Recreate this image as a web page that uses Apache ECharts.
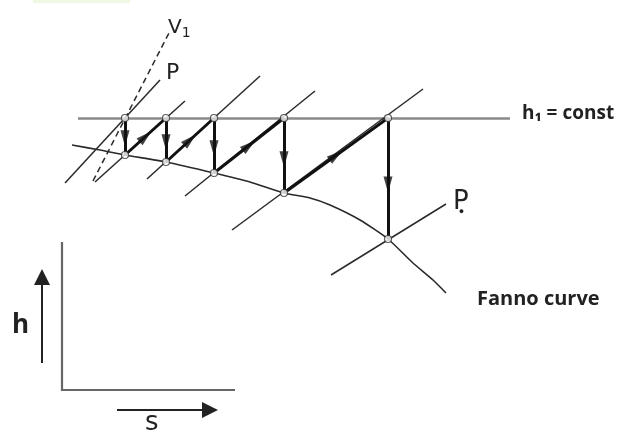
<!DOCTYPE html>
<html>
<head>
<meta charset="utf-8">
<script src="https://cdn.jsdelivr.net/npm/echarts@6/dist/echarts.min.js"></script>
<style>
html,body{margin:0;padding:0;background:#fff;}
#c{width:619px;height:432px;}
</style>
</head>
<body>
<div id="c"></div>
<script>
// ---- diagram data (s, h) in drawing units ----
const hConst = 314;                               // h1 = const level
const hConstRange = [78, 510];                    // s extent of the h1 line
const stateS = [125, 166, 214, 284, 388];         // s of each state
const fannoH = [277, 270, 259, 239, 193];         // h of each state on Fanno curve
const fannoCurve = [[72,287],[100,282],[125,277],[166,270],[214,259],[250,250],[284,239],[310,234],[330,227],[360,212],[388,193],[413,169],[433,152],[446,139]];
const isobars = [
  [[65,249],[160,352]],
  [[95,250],[185,331]],
  [[147,253],[260,356]],
  [[185,236],[315,341]],
  [[232,202],[423,343]],
  [[331,157],[446,228]]
];
const v1Line = [[93,251],[170,401]];
const hsBox = [[62,190],[62,42],[235,42]];
const hArrow = [[42,69],[42,155]];
const sArrow = [[117,22],[210,22]];
const labelV1 = 'V';
const labelP = 'P';
const labelPe = 'P';
const labelH1 = 'h₁ = const';
const labelFanno = 'Fanno curve';
const labelH = 'h';
const labelS = 's';

// ---- derived marks ----
const verticals = stateS.map((s, i) => [[s, hConst], [s, fannoH[i]]]);
const diagonals = [];
for (let i = 0; i < stateS.length - 1; i++) {
  diagonals.push([[stateS[i], fannoH[i]], [stateS[i + 1], hConst]]);
}
function arrowHead(seg, t) {
  const [a, b] = seg;
  const dx = b[0] - a[0], dy = b[1] - a[1];
  const ang = Math.atan2(dy, dx) * 180 / Math.PI;
  return { value: [a[0] + dx * t, a[1] + dy * t], symbolRotate: ang - 90 };
}
const heads = verticals.map(v => arrowHead(v, 0.55)).concat(diagonals.map(d => arrowHead(d, 0.5)));
const points = stateS.map(s => [s, hConst]).concat(stateS.map((s, i) => [s, fannoH[i]]));

const chart = echarts.init(document.getElementById('c'), null, {renderer: 'canvas'});
const dark = '#2a2a2a';
chart.setOption({
  animation: false,
  backgroundColor: '#fff',
  grid: {left: 0, right: 0, top: 0, bottom: 0},
  xAxis: {type: 'value', min: 0, max: 619, show: false},
  yAxis: {type: 'value', min: 0, max: 432, show: false},
  series: [
    { type: 'lines', coordinateSystem: 'cartesian2d', z: 2,
      lineStyle: {color: '#8a8a8a', width: 2.5, opacity: 1},
      data: [{coords: [[hConstRange[0], hConst], [hConstRange[1], hConst]]}] },
    { type: 'line', data: fannoCurve, smooth: 0.2, showSymbol: false, z: 2,
      lineStyle: {color: dark, width: 1.6} },
    { type: 'lines', coordinateSystem: 'cartesian2d', z: 2,
      lineStyle: {color: dark, width: 1.5, opacity: 1},
      data: isobars.map(c => ({coords: c})) },
    { type: 'lines', coordinateSystem: 'cartesian2d', z: 2,
      lineStyle: {color: dark, width: 1.5, type: [6, 4], opacity: 1},
      data: [{coords: v1Line}] },
    { type: 'lines', coordinateSystem: 'cartesian2d', z: 3,
      lineStyle: {color: '#111', width: 3, opacity: 1},
      data: verticals.concat(diagonals).map(c => ({coords: c})) },
    { type: 'scatter', z: 4, symbol: 'triangle', symbolSize: [9, 16],
      itemStyle: {color: '#111'}, data: heads },
    { type: 'scatter', z: 5, symbol: 'circle', symbolSize: 7,
      itemStyle: {color: '#fff', borderColor: '#333', borderWidth: 1.2}, data: points },
    { type: 'lines', coordinateSystem: 'cartesian2d', polyline: true, z: 2,
      lineStyle: {color: '#666', width: 2.2, opacity: 1},
      data: [{coords: hsBox}] },
    { type: 'lines', coordinateSystem: 'cartesian2d', z: 2,
      symbol: ['none', 'triangle'], symbolSize: [9, 16],
      lineStyle: {color: '#222', width: 2, opacity: 1},
      data: [{coords: hArrow}, {coords: sArrow}] }
  ],
  graphic: [
    {type: 'rect', left: 33, top: 0, shape: {width: 97, height: 3}, style: {fill: '#eef8e2'}},
    {type: 'text', x: 168, y: 16, style: {text: '{a|' + labelV1 + '}{b|1}', rich: {a: {fontSize: 20, fontFamily: 'DejaVu Sans', fill: '#222'}, b: {fontSize: 14, fontFamily: 'DejaVu Sans', fill: '#222', padding: [10, 0, 0, 0]}}}},
    {type: 'text', x: 166, y: 62, style: {text: labelP, font: '22px "DejaVu Sans"', fill: '#222'}},
    {type: 'text', x: 453, y: 189, style: {text: '{a|' + labelPe + '}{b|●}', rich: {a: {fontSize: 26, fontFamily: 'DejaVu Sans', fill: '#222'}, b: {fontSize: 9, fill: '#222', padding: [18, 0, 0, -10]}}}},
    {type: 'text', x: 522, y: 104, style: {text: labelH1, font: 'bold 19px "Open Sans"', fill: '#222'}},
    {type: 'text', x: 477, y: 289, style: {text: labelFanno, font: 'bold 20px "Open Sans"', fill: '#222'}},
    {type: 'text', x: 12, y: 313, style: {text: labelH, font: 'bold 26px "Open Sans"', fill: '#222'}},
    {type: 'text', x: 145, y: 410, style: {text: labelS, font: '26px "DejaVu Sans"', fill: '#222'}}
  ]
});
</script>
</body>
</html>
